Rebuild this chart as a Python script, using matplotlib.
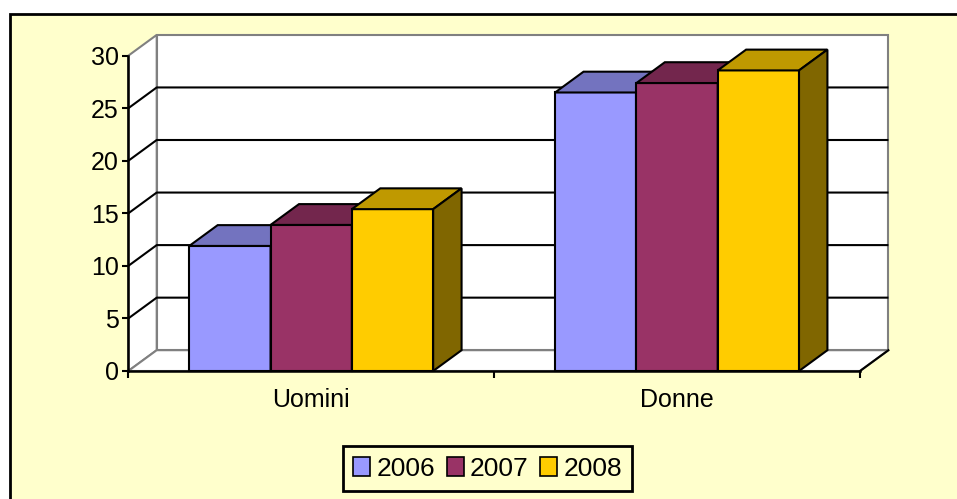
import matplotlib
matplotlib.use("Agg")
import matplotlib.pyplot as plt
from matplotlib.patches import Polygon, Rectangle, Patch

# Data
categories = ["Uomini", "Donne"]
series = ["2006", "2007", "2008"]
values = {
    "2006": [11.9, 26.5],
    "2007": [13.9, 27.4],
    "2008": [15.4, 28.6],
}
y_ticks = [0, 5, 10, 15, 20, 25, 30]

# Colours: front face, top face, side face
front_colors = ["#9999FF", "#993366", "#FFCC00"]
top_colors = ["#7373BF", "#73264D", "#BF9900"]
side_colors = ["#4D4D80", "#4D1A33", "#806600"]

plt.rcParams["font.family"] = ["Liberation Sans", "DejaVu Sans"]
FS = 18
FS_LEG = 19

W, H = 957, 499
fig = plt.figure(figsize=(W / 100, H / 100), dpi=100, facecolor="white")

# chart area with a black frame
fig.patches.append(Rectangle((10 / W, -0.02), 1.05, (H - 14) / H + 0.02,
                             transform=fig.transFigure, facecolor="#FFFFCC",
                             edgecolor="black", linewidth=2, zorder=-10))

# front plane of the 3D box
left, right = 128.3 / W, 860 / W
bottom, top = (H - 371) / H, (H - 55.7) / H
ax = fig.add_axes([left, bottom, right - left, top - bottom])
ax.set_xlim(-0.5, len(categories) - 0.5)
ax.set_ylim(0, 30)
ax.patch.set_visible(False)

# depth offset of the box, expressed in data units
DEPTH_X_PX, DEPTH_Y_PX = 28.4, 20.8
ax_w_px = (right - left) * W
ax_h_px = (top - bottom) * H
dx = DEPTH_X_PX * (len(categories)) / ax_w_px
dy = DEPTH_Y_PX * 30 / ax_h_px

x0, x1 = ax.get_xlim()
y0, y1 = ax.get_ylim()
wall_grey = "#808080"

# back wall
ax.add_patch(Polygon([(x0 + dx, y0 + dy), (x1 + dx, y0 + dy), (x1 + dx, y1 + dy), (x0 + dx, y1 + dy)],
                     closed=True, facecolor="white", edgecolor=wall_grey, lw=1.5,
                     clip_on=False, zorder=1))
# left wall
ax.add_patch(Polygon([(x0, y0), (x0 + dx, y0 + dy), (x0 + dx, y1 + dy), (x0, y1)],
                     closed=True, facecolor="white", edgecolor=wall_grey, lw=1.5,
                     clip_on=False, zorder=1))
# floor
ax.add_patch(Polygon([(x0, y0), (x1, y0), (x1 + dx, y0 + dy), (x0 + dx, y0 + dy)],
                     closed=True, facecolor="white", edgecolor=wall_grey, lw=1.5,
                     clip_on=False, zorder=1))
ax.plot([x1, x1 + dx], [y0, y0 + dy], color="black", lw=1.5, clip_on=False, zorder=2)

# gridlines on the back and left walls
for t in y_ticks[1:-1]:
    ax.plot([x0, x0 + dx, x1 + dx], [t, t + dy, t + dy], color="black", lw=1.5,
            clip_on=False, zorder=2, solid_capstyle="butt")

# 3D columns
n = len(series)
bw = 1 / (n + 1.5)
for ci in range(len(categories)):
    for si, s in enumerate(series):
        v = values[s][ci]
        xa = ci + (si - (n - 1) / 2) * bw - bw / 2
        xb = xa + bw
        z = 3 + ci * 10 + si
        ax.add_patch(Polygon([(xa, 0), (xb, 0), (xb, v), (xa, v)], closed=True,
                             facecolor=front_colors[si], edgecolor="black", lw=1.5,
                             joinstyle="miter", clip_on=False, zorder=z))
        ax.add_patch(Polygon([(xa, v), (xb, v), (xb + dx, v + dy), (xa + dx, v + dy)], closed=True,
                             facecolor=top_colors[si], edgecolor="black", lw=1.5,
                             joinstyle="miter", clip_on=False, zorder=z))
        ax.add_patch(Polygon([(xb, 0), (xb + dx, dy), (xb + dx, v + dy), (xb, v)], closed=True,
                             facecolor=side_colors[si], edgecolor="black", lw=1.5,
                             joinstyle="miter", clip_on=False, zorder=z))

# axes
for sp in ["top", "right"]:
    ax.spines[sp].set_visible(False)
for sp in ["left", "bottom"]:
    ax.spines[sp].set_color("black")
    ax.spines[sp].set_linewidth(1.8)
    ax.spines[sp].set_zorder(40)

ax.set_yticks(y_ticks)
ax.set_yticklabels([str(t) for t in y_ticks], fontsize=FS)
ax.tick_params(axis="y", direction="out", length=4, width=1.5, pad=3, color="black")

ax.set_xticks(range(len(categories)))
ax.set_xticklabels(categories, fontsize=FS)
ax.set_xticks([i - 0.5 for i in range(len(categories) + 1)], minor=True)
ax.tick_params(axis="x", which="major", length=0, pad=12)
ax.tick_params(axis="x", which="minor", direction="out", length=5, width=1.5, color="black")

# legend
handles = [Patch(facecolor=c, edgecolor="black", linewidth=1.2) for c in front_colors]
leg = fig.legend(handles, series, loc="center", bbox_to_anchor=(487.5 / W, 1 - 468.5 / H),
                 ncol=3, fontsize=FS_LEG, frameon=True, fancybox=False,
                 handlelength=0.65, handleheight=0.7, handletextpad=0.22,
                 columnspacing=0.45, borderpad=0.4, borderaxespad=0)
fr = leg.get_frame()
fr.set_edgecolor("black")
fr.set_linewidth(2)
fr.set_facecolor("#FFFFCC")
fr.set_alpha(1)

fig.savefig("out.png", dpi=100, facecolor="white")
